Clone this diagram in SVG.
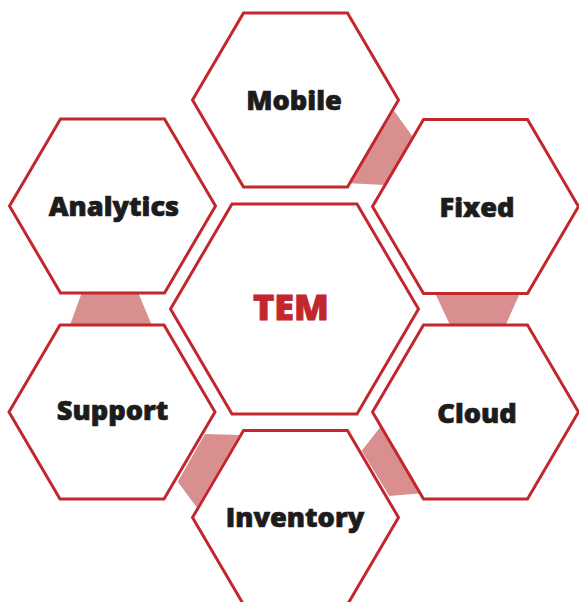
<svg xmlns="http://www.w3.org/2000/svg" width="579" height="602" viewBox="0 0 579 602">
<style>
.hex{fill:#ffffff;stroke:#c1272d;stroke-width:3;stroke-linejoin:miter}
.link{fill:#d98f8f;stroke:none}
.lbl{font-family:"Open Sans","Noto Sans",sans-serif;font-weight:800;font-size:27.2px;fill:#1c1c1c;stroke:#1c1c1c;stroke-width:0.7;text-anchor:middle}
.core{font-family:"Open Sans","Noto Sans",sans-serif;font-weight:800;font-size:36px;fill:#c1272d;stroke:#c1272d;stroke-width:0.9;text-anchor:middle}
</style>
<rect width="579" height="602" fill="#ffffff"/>
<g id="connectors">
<polygon class="link" points="394,110.7 412.7,136.7 385,185 350,183.3"/>
<polygon class="link" points="435,293 520,293 505.7,325 450,325"/>
<polygon class="link" points="382.7,424 361.7,450.7 389.3,496 421.7,493.3"/>
<polygon class="link" points="205,434 239,435 196.7,507.3 177.7,481.7"/>
<polygon class="link" points="81.7,293 138.3,293 151.7,325 70,325"/>
</g>
<g id="node-mobile">
<polygon class="hex" points="192.5,100 243.5,13 347.5,13 398.5,100 347.5,187 243.5,187"/>
<text class="lbl" x="294" y="109.5">Mobile</text>
</g>
<g id="node-analytics">
<polygon class="hex" points="9.5,206 60.5,119 164.5,119 215.5,206 164.5,293 60.5,293"/>
<text class="lbl" x="114" y="216">Analytics</text>
</g>
<g id="node-fixed">
<polygon class="hex" points="372.5,206.5 423.5,119.5 527.5,119.5 578.5,206.5 527.5,293.5 423.5,293.5"/>
<text class="lbl" x="477" y="216.5">Fixed</text>
</g>
<g id="node-tem">
<polygon class="hex" points="170.5,309 232,204 357,204 418.5,309 357,414 232,414"/>
<text class="core" x="291" y="320">TEM</text>
</g>
<g id="node-support">
<polygon class="hex" points="9,412 60,325 164,325 215,412 164,499 60,499"/>
<text class="lbl" x="112.5" y="419.5">Support</text>
</g>
<g id="node-cloud">
<polygon class="hex" points="372.5,412 423.5,325 527.5,325 578.5,412 527.5,499 423.5,499"/>
<text class="lbl" x="477" y="422.5">Cloud</text>
</g>
<g id="node-inventory">
<polygon class="hex" points="192.5,517.5 243.5,430.5 347.5,430.5 398.5,517.5 347.5,604.5 243.5,604.5"/>
<text class="lbl" x="295" y="526.5">Inventory</text>
</g>
</svg>
